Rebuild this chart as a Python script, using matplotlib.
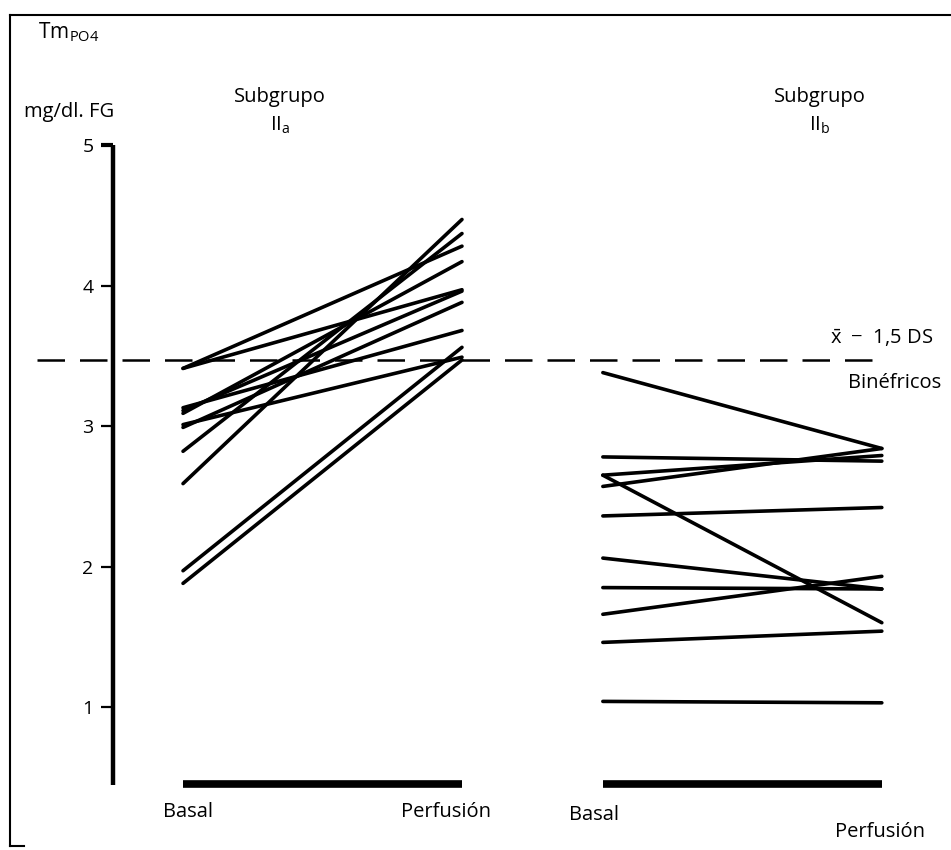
import matplotlib
matplotlib.use("Agg")
import matplotlib.pyplot as plt
from matplotlib.lines import Line2D

plt.rcParams['font.family'] = ['Open Sans', 'DejaVu Sans']
plt.rcParams['mathtext.fontset'] = 'custom'
plt.rcParams['mathtext.rm'] = 'Open Sans'
plt.rcParams['mathtext.it'] = 'Open Sans'

# Subgrupo IIa: basal -> perfusion (Tm PO4, mg/dl FG)
iia_basal = [3.41, 3.41, 3.13, 3.11, 3.09, 3.01, 2.99, 2.82, 2.59, 1.97, 1.88]
iia_perf = [4.28, 3.97, 3.68, 3.96, 4.17, 3.49, 3.88, 4.37, 4.47, 3.56, 3.47]

# Subgrupo IIb
iib_basal = [3.38, 2.78, 2.65, 2.57, 2.65, 2.36, 2.06, 1.85, 1.66, 1.46, 1.04]
iib_perf = [2.84, 2.75, 2.79, 2.84, 1.60, 2.42, 1.84, 1.84, 1.93, 1.54, 1.03]

x_iia = [0.0, 1.0]
x_iib = [1.505, 2.505]
ref_value = 3.47  # x - 1,5 DS binefricos
y_ticks = [1, 2, 3, 4, 5]
y_min = 0.445

W, H = 951, 850
fig = plt.figure(figsize=(W / 100, H / 100), dpi=100)

def fx(px):
    return px / W

def fy(py):
    return 1 - py / H

ax = fig.add_axes([fx(113), fy(785), fx(951) - fx(113), fy(145) - fy(785)])
ax.set_xlim(-0.251, 2.753)
ax.set_ylim(y_min, 5)
ax.patch.set_alpha(0)
for s in ['top', 'right', 'bottom']:
    ax.spines[s].set_visible(False)
ax.spines['left'].set_linewidth(3.2)
ax.spines['left'].set_capstyle('butt')
ax.set_xticks([])
ax.set_yticks(y_ticks)
ax.tick_params(axis='y', length=9, width=1.6, labelsize=14, pad=5)
ax.get_yticklines()[-2].set_markeredgewidth(3)

for b, p in zip(iia_basal, iia_perf):
    ax.plot(x_iia, [b, p], color='black', lw=2.6, solid_capstyle='round')
for b, p in zip(iib_basal, iib_perf):
    ax.plot(x_iib, [b, p], color='black', lw=2.6, solid_capstyle='round')

# base bars
ax.plot(x_iia, [y_min + 0.01] * 2, color='black', lw=5.5, solid_capstyle='butt', clip_on=False)
ax.plot(x_iib, [y_min + 0.01] * 2, color='black', lw=5.5, solid_capstyle='butt', clip_on=False)

# reference dashed line
ax.plot([-0.523, 2.515], [ref_value, ref_value], color='black', lw=1.8,
        dashes=(11, 6), clip_on=False)

# frame
fig.add_artist(Line2D([fx(10), fx(10)], [fy(15), fy(846)], color='black', lw=1.5))
fig.add_artist(Line2D([fx(10), fx(951)], [fy(15), fy(15)], color='black', lw=1.5))
fig.add_artist(Line2D([fx(10), fx(24)], [fy(846), fy(846)], color='black', lw=1.5))

# texts
fs = 14.5
fig.text(fx(38), fy(32), r'Tm$_{\mathregular{PO4}}$', fontsize=15, va='center')
fig.text(fx(24), fy(112), 'mg/dl. FG', fontsize=fs, va='center')
fig.text(fx(280), fy(97), 'Subgrupo', fontsize=fs, ha='center', va='center')
fig.text(fx(280), fy(125), r'II$_\mathregular{a}$', fontsize=fs, ha='center', va='center')
fig.text(fx(820), fy(97), 'Subgrupo', fontsize=fs, ha='center', va='center')
fig.text(fx(820), fy(125), r'II$_\mathregular{b}$', fontsize=fs, ha='center', va='center')
fig.text(fx(933), fy(338), r'$\bar{\mathregular{x}}$  $-$  1,5 DS', fontsize=fs, ha='right', va='center')
fig.text(fx(941), fy(383), 'Binéfricos', fontsize=fs, ha='right', va='center')
fig.text(fx(188), fy(812), 'Basal', fontsize=fs, ha='center', va='center')
fig.text(fx(446), fy(812), 'Perfusión', fontsize=fs, ha='center', va='center')
fig.text(fx(594), fy(815), 'Basal', fontsize=fs, ha='center', va='center')
fig.text(fx(880), fy(832), 'Perfusión', fontsize=fs, ha='center', va='center')

fig.savefig('out.png', dpi=100)
